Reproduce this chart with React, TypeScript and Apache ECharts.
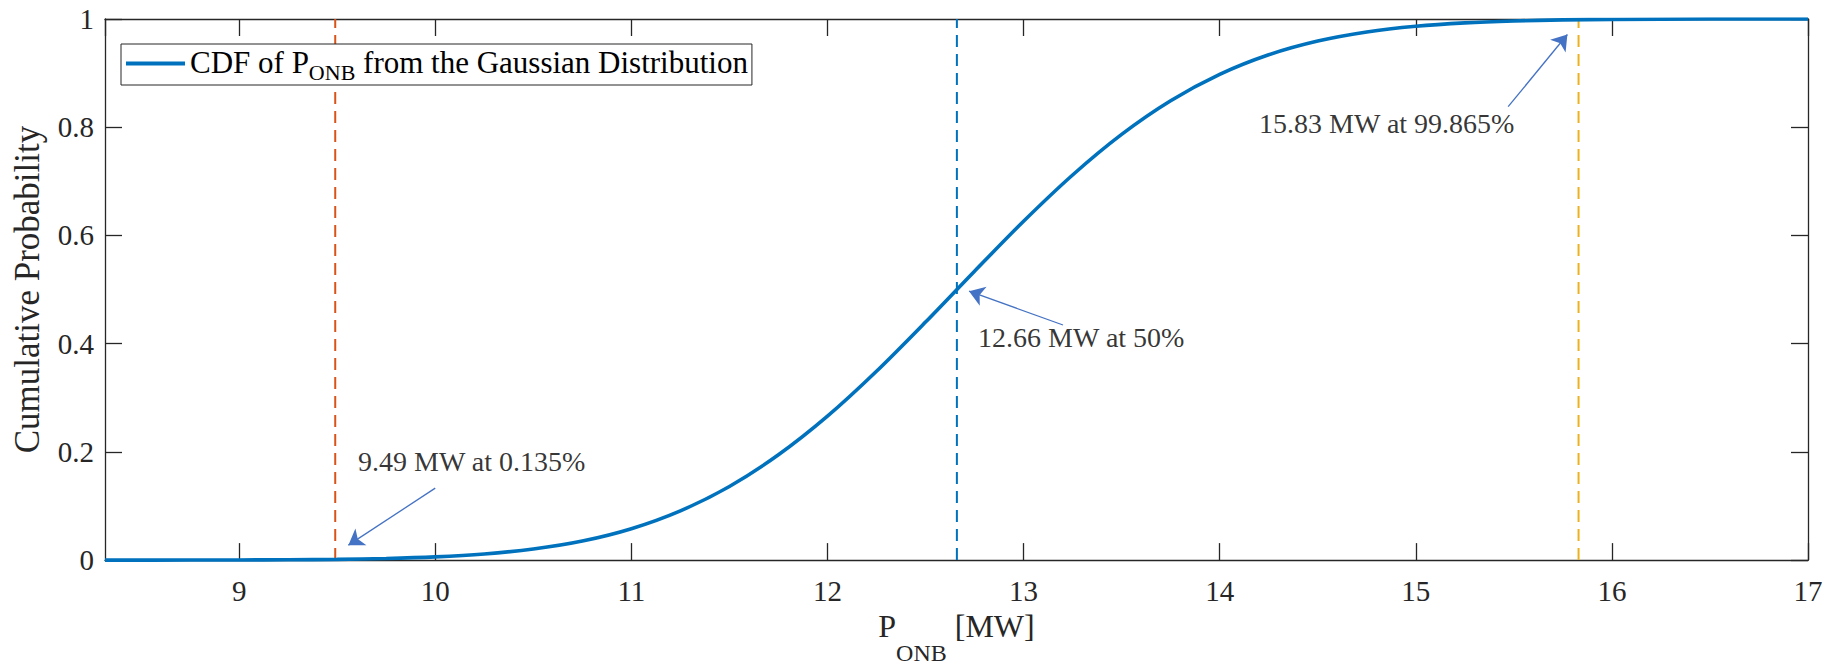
import React, { useEffect, useRef } from "react";
import * as echarts from "echarts";

const FONT = "'Liberation Serif', 'Times New Roman', serif";
const AXIS_COLOR = "#262626";

// P_ONB [MW] values (x) and cumulative probability
const xValues = [8.316, 8.75, 9.0, 9.25, 9.5, 9.75, 10.0, 10.25, 10.5, 10.75, 11.0, 11.25, 11.5, 11.75, 12.0, 12.25, 12.5, 12.75, 13.0, 13.25, 13.5, 13.75, 14.0, 14.25, 14.5, 14.75, 15.0, 15.25, 15.5, 15.75, 16.0, 16.5, 17.0];
const cdfValues = [0.0, 0.0001, 0.0003, 0.0006, 0.0014, 0.0029, 0.0059, 0.0113, 0.0205, 0.0353, 0.0581, 0.0911, 0.1361, 0.1946, 0.266, 0.349, 0.4399, 0.5339, 0.6262, 0.7117, 0.7867, 0.8489, 0.8976, 0.9338, 0.9592, 0.976, 0.9866, 0.9929, 0.9964, 0.9983, 0.9992, 0.9999, 1.0];

const xMin = 8.316;
const xMax = 17;

// vertical dashed reference lines
const thresholdValues = [9.49, 12.66, 15.83];
const thresholdColors = ["#D95319", "#0072BD", "#EDB120"];

// annotations
const annotationTexts = ["9.49 MW at 0.135%", "12.66 MW at 50%", "15.83 MW at 99.865%"];
const annotationTextPos = [[9.606, 0.182], [12.768, 0.411], [14.201, 0.807]];
const arrowTails = [[10.0, 0.133], [13.201, 0.4345], [15.471, 0.838]];
const arrowHeads = [[9.557, 0.0276], [12.722, 0.497], [15.773, 0.9713]];

const legendLabel = "{m|CDF of P}{s|ONB}{m| from the Gaussian Distribution}";
const xAxisName = "{m|P}{s|ONB}{m| [MW]}";
const yAxisName = "Cumulative Probability";

export default function App() {
  const ref = useRef<HTMLDivElement>(null);

  useEffect(() => {
    if (!ref.current) return;
    const chart = echarts.init(ref.current, null, { renderer: "svg" });

    const curveData = xValues.map((x, i) => [x, cdfValues[i]]);

    const thresholdSeries = thresholdValues.map((v, i) => ({
      type: "line",
      name: "th" + i,
      data: [[v, 0], [v, 1]],
      symbol: "none",
      silent: true,
      z: 1,
      lineStyle: { color: thresholdColors[i], width: 2, type: [12, 7] },
    }));

    const baseXAxis = {
      type: "value",
      min: xMin,
      max: xMax,
      minInterval: 1,
      maxInterval: 1,
      splitLine: { show: false },
      axisLine: { show: true, onZero: false, lineStyle: { color: AXIS_COLOR, width: 1.3 } },
      axisTick: { show: true, inside: true, length: 17, lineStyle: { color: AXIS_COLOR, width: 1.3 } },
    };
    const baseYAxis = {
      type: "value",
      min: 0,
      max: 1,
      interval: 0.2,
      splitLine: { show: false },
      axisLine: { show: true, onZero: false, lineStyle: { color: AXIS_COLOR, width: 1.3 } },
      axisTick: { show: true, inside: true, length: 17, lineStyle: { color: AXIS_COLOR, width: 1.3 } },
    };

    chart.setOption({
      animation: false,
      backgroundColor: "#ffffff",
      grid: { left: 105, right: 22, top: 19, bottom: 101, containLabel: false },
      legend: {
        data: ["cdf"],
        left: 121,
        top: 44,
        backgroundColor: "#ffffff",
        borderColor: AXIS_COLOR,
        borderWidth: 1,
        borderRadius: 0,
        padding: [3, 4, 2, 5],
        icon: "rect",
        itemWidth: 59,
        itemHeight: 4,
        selectedMode: false,
        formatter: () => legendLabel,
        textStyle: {
          color: "#000",
          fontFamily: FONT,
          rich: {
            m: { fontFamily: FONT, fontSize: 31, lineHeight: 33, color: "#000", verticalAlign: "top" },
            s: { fontFamily: FONT, fontSize: 22, lineHeight: 22, color: "#000", verticalAlign: "top", padding: [14, 0, 0, 0] },
          },
        },
      },
      xAxis: [
        {
          ...baseXAxis,
          position: "bottom",
          axisLabel: { show: true, showMinLabel: false, margin: 16, fontFamily: FONT, fontSize: 29, color: AXIS_COLOR },
          name: xAxisName,
          nameLocation: "middle",
          nameGap: 43,
          nameTextStyle: {
            color: AXIS_COLOR,
            fontFamily: FONT,
            rich: {
              m: { fontFamily: FONT, fontSize: 32, lineHeight: 32, color: AXIS_COLOR, verticalAlign: "top" },
              s: { fontFamily: FONT, fontSize: 24, lineHeight: 24, color: AXIS_COLOR, verticalAlign: "top", padding: [31, 0, 0, 0] },
            },
          },
        },
        { ...baseXAxis, position: "top", axisLabel: { show: false } },
      ],
      yAxis: [
        {
          ...baseYAxis,
          position: "left",
          axisLabel: { show: true, margin: 11, fontFamily: FONT, fontSize: 29, color: AXIS_COLOR },
          name: yAxisName,
          nameLocation: "middle",
          nameRotate: 90,
          nameGap: 60,
          nameTextStyle: { color: AXIS_COLOR, fontFamily: FONT, fontSize: 35 },
        },
        { ...baseYAxis, position: "right", axisLabel: { show: false } },
      ],
      series: [
        ...thresholdSeries,
        {
          type: "line",
          name: "cdf",
          data: curveData,
          symbol: "none",
          smooth: 0.3,
          z: 3,
          itemStyle: { color: "#0072BD" },
          lineStyle: { color: "#0072BD", width: 3.6 },
        },
        {
          type: "scatter",
          name: "annotations",
          data: annotationTextPos,
          symbolSize: 0,
          silent: true,
          z: 4,
          itemStyle: { color: "rgba(0,0,0,0)" },
          label: {
            show: true,
            position: "right",
            distance: 0,
            formatter: (p: any) => annotationTexts[p.dataIndex],
            fontFamily: FONT,
            fontSize: 28,
            color: "#000",
          },
          markLine: {
            silent: true,
            symbol: ["none", "arrow"],
            symbolSize: 15,
            label: { show: false },
            lineStyle: { color: "#4472C4", width: 1.3, type: "solid" },
            emphasis: { disabled: true },
            data: arrowTails.map((t, i) => [{ coord: t }, { coord: arrowHeads[i] }]),
          },
        },
      ],
    });

    return () => chart.dispose();
  }, []);

  return (
    <div
      ref={ref}
      style={{ position: "fixed", left: 0, top: 0, width: 1830, height: 670, background: "#fff" }}
    />
  );
}
